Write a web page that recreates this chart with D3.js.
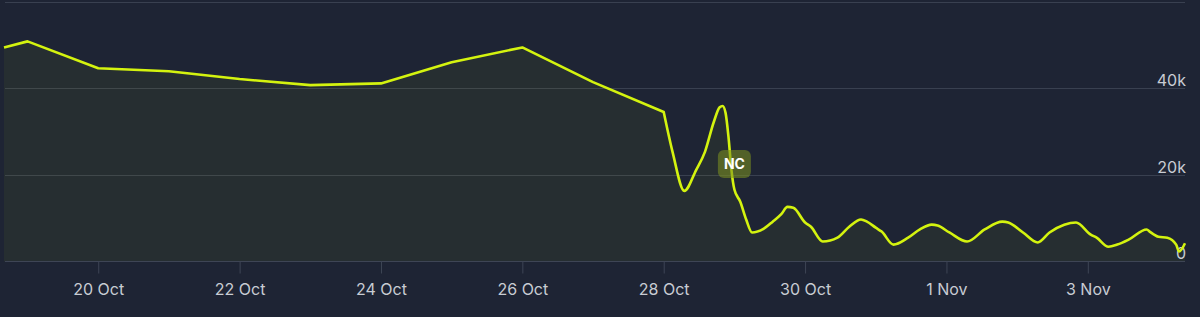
<!DOCTYPE html>
<html>
<head>
<meta charset="utf-8">
<script src="https://cdn.jsdelivr.net/npm/d3@7"></script>
<style>
  html, body { margin: 0; padding: 0; background: #1e2434; }
  #vis { width: 1200px; height: 317px; }
  .axis text { font-family: Inter, "Noto Sans", sans-serif; font-size: 16px; fill: #c8ccd3; }
  .axis path, .axis line { stroke: #3e4555; }
</style>
</head>
<body>
<div id="vis"></div>
<script>
// concurrent players
var times = [
    '2023-10-18 16:00', '2023-10-19 00:00', '2023-10-20 00:00', '2023-10-21 00:00',
    '2023-10-22 00:00', '2023-10-23 00:00', '2023-10-24 00:00', '2023-10-25 00:00',
    '2023-10-26 00:00', '2023-10-27 00:00', '2023-10-28 00:00',
    '2023-10-28 03:00', '2023-10-28 07:00', '2023-10-28 11:00', '2023-10-28 14:00',
    '2023-10-28 17:00', '2023-10-28 19:00', '2023-10-28 20:00', '2023-10-28 21:00',
    '2023-10-28 22:00', '2023-10-28 23:00', '2023-10-29 00:00', '2023-10-29 02:00',
    '2023-10-29 04:00', '2023-10-29 06:00', '2023-10-29 10:00', '2023-10-29 13:00',
    '2023-10-29 16:00', '2023-10-29 18:00', '2023-10-29 20:00', '2023-10-30 00:00',
    '2023-10-30 02:00', '2023-10-30 06:00', '2023-10-30 11:00', '2023-10-30 15:00',
    '2023-10-30 19:00', '2023-10-30 21:00', '2023-10-31 00:00', '2023-10-31 02:00',
    '2023-10-31 06:00', '2023-10-31 11:00', '2023-10-31 15:00', '2023-10-31 19:00',
    '2023-10-31 21:00', '2023-11-01 01:00', '2023-11-01 07:00', '2023-11-01 13:00',
    '2023-11-01 19:00', '2023-11-01 21:00', '2023-11-02 02:00', '2023-11-02 07:00',
    '2023-11-02 11:00', '2023-11-02 16:00', '2023-11-02 20:00', '2023-11-03 01:00',
    '2023-11-03 03:00', '2023-11-03 07:00', '2023-11-03 10:00', '2023-11-03 14:00',
    '2023-11-03 20:00', '2023-11-03 21:00', '2023-11-04 00:00', '2023-11-04 03:00',
    '2023-11-04 06:00', '2023-11-04 07:00', '2023-11-04 09:00'
];
var players = [
    49400, 50800, 44600, 43900,
    42100, 40700, 41100, 46000,
    49400, 41400, 34500,
    25300, 16300, 21100, 25300,
    32200, 35600, 35900, 34300,
    28700, 21100, 16600, 13800,
    9700, 6700, 7600, 9200,
    11000, 12600, 12400, 9000,
    8000, 4600, 5500, 8000,
    9700, 9200, 7800, 6900,
    3900, 5500, 7400, 8500,
    8300, 6700, 4600, 7400,
    9200, 9000, 6700, 4400,
    6700, 8500, 9000, 6200,
    5500, 3400, 3900, 5100,
    7400, 6900, 5700, 5500,
    3900, 2300, 4200
];
// daily samples up to here, hourly-ish after
var dailyUntil = '2023-10-28 00:00';

var xTicks = ['2023-10-20', '2023-10-22', '2023-10-24', '2023-10-26',
              '2023-10-28', '2023-10-30', '2023-11-01', '2023-11-03'];
var yTicks = [0, 20000, 40000];
var yGrid = [20000, 40000, 60000];

var noteTimes = ['2023-10-29 00:00'];
var noteValues = [22500];
var noteLabels = ['NC'];

var parseTime = d3.utcParse('%Y-%m-%d %H:%M');
var parseDay = d3.utcParse('%Y-%m-%d');

var data = times.map(function(t, i) { return { t: parseTime(t), v: players[i] }; });
var split = parseTime(dailyUntil);
var dailyData = data.filter(function(d) { return d.t <= split; });
var hourlyData = data.filter(function(d) { return d.t >= split; });

var W = 1200, H = 317;
var plotLeft = 4, plotRight = 1185, plotTop = 1.5, plotBottom = 261.5;

var svg = d3.select('#vis').append('svg')
    .attr('width', W)
    .attr('height', H);

var xScale = d3.scaleUtc()
    .domain(d3.extent(data, function(d) { return d.t; }))
    .range([plotLeft, plotRight]);

var yScale = d3.scaleLinear()
    .domain([0, 60000])
    .range([plotBottom, plotTop]);

// grid lines
svg.append('g').selectAll('line')
    .data(yGrid)
    .enter().append('line')
    .attr('x1', plotLeft + 1)
    .attr('x2', plotRight)
    .attr('y1', function(d) { return Math.round(yScale(d)) + 0.5; })
    .attr('y2', function(d) { return Math.round(yScale(d)) + 0.5; })
    .attr('stroke', '#394050')
    .attr('stroke-width', 1);

var lineDaily = d3.line()
    .x(function(d) { return xScale(d.t); })
    .y(function(d) { return yScale(d.v); });

var lineHourly = d3.line()
    .x(function(d) { return xScale(d.t); })
    .y(function(d) { return yScale(d.v); })
    .curve(d3.curveMonotoneX);

var lineD = lineDaily(dailyData) + lineHourly(hourlyData).replace(/^M/, 'L');
var first = data[0], last = data[data.length - 1];
var areaD = lineD +
    'L' + xScale(last.t) + ',' + yScale(0) +
    'L' + xScale(first.t) + ',' + yScale(0) + 'Z';

svg.append('path')
    .attr('d', areaD)
    .attr('fill', 'rgba(200, 235, 0, 0.05)');

// x axis
var xAxis = d3.axisBottom(xScale)
    .tickValues(xTicks.map(parseDay))
    .tickFormat(d3.utcFormat('%-d %b'))
    .tickSize(12)
    .tickSizeOuter(0)
    .tickPadding(10);

var gx = svg.append('g')
    .attr('class', 'axis')
    .attr('transform', 'translate(0,' + plotBottom + ')')
    .call(xAxis);
gx.select('.domain').attr('d', 'M' + (plotLeft + 1) + ',0H' + plotRight);

// y labels on the right, just above each grid line
var yAxis = d3.axisLeft(yScale)
    .tickValues(yTicks)
    .tickFormat(function(d) { return d === 0 ? '0' : (d / 1000) + 'k'; })
    .tickSize(0)
    .tickPadding(0);

var gy = svg.append('g')
    .attr('class', 'axis')
    .attr('transform', 'translate(' + (plotRight + 1) + ',0)')
    .call(yAxis);
gy.select('.domain').remove();
gy.selectAll('text').attr('dy', '-0.16em').attr('fill', '#b9bdc6');

svg.append('path')
    .attr('d', lineD)
    .attr('fill', 'none')
    .attr('stroke', '#d4f30f')
    .attr('stroke-width', 2.6)
    .attr('stroke-linejoin', 'round');

// event badge
var notes = noteTimes.map(function(t, i) {
    return { t: parseTime(t), v: noteValues[i], label: noteLabels[i] };
});

var badge = svg.append('g').selectAll('g')
    .data(notes)
    .enter().append('g')
    .attr('transform', function(d) {
        return 'translate(' + xScale(d.t) + ',' + yScale(d.v) + ')';
    });

badge.append('rect')
    .attr('x', -16.5)
    .attr('y', -14)
    .attr('width', 33)
    .attr('height', 28)
    .attr('rx', 6)
    .attr('fill', 'rgba(120, 142, 32, 0.58)');

badge.append('text')
    .attr('text-anchor', 'middle')
    .attr('dy', '0.36em')
    .attr('font-family', 'Inter, "Noto Sans", sans-serif')
    .attr('font-size', 14)
    .attr('font-weight', 700)
    .attr('fill', '#ffffff')
    .text(function(d) { return d.label; });
</script>
</body>
</html>
